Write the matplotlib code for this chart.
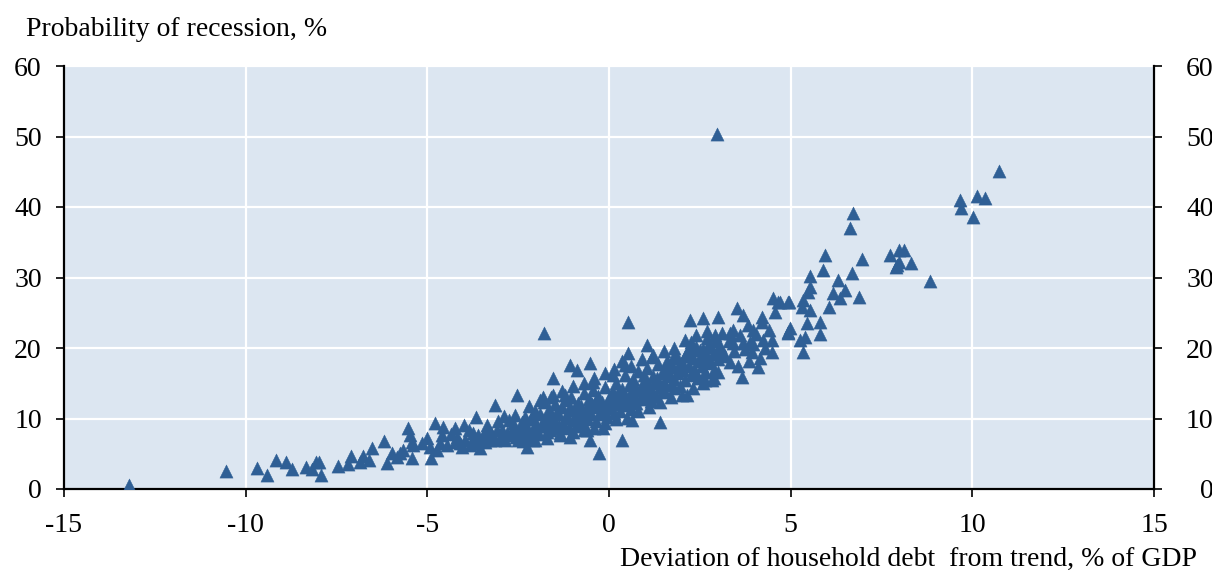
import matplotlib
matplotlib.use("Agg")
import matplotlib.pyplot as plt
import matplotlib.transforms as mtransforms

# Deviation of household debt from trend (% of GDP) and probability of recession (%)
x_sparse = [-13.2, -10.54, -9.68, -9.41, -9.16, -8.89, -8.72, -8.33, -8.17, -8.06, -7.98, -7.94,
            -7.46, -7.18, -7.1, -6.85, -6.77, -6.6, -6.52, -6.19, -6.11, -5.97, -5.84, -5.75,
            -5.67, -5.53, -5.48, -5.42, -5.4, -5.42, -5.15, -5.01, -4.93, -4.9, -4.79, -4.73,
            -4.65, -4.6, -4.57, -4.24, -4.18, -4.24, -4.05, -3.83, -3.74, -3.66, -3.63, -3.55,
            -3.47, -3.36, -3.28, -3.14, -3.08, -3.0, -2.81, -2.64, -2.59, -2.53, -2.5, -1.8,
            -2.26, -2.09, -1.82, -1.54, -1.54, -1.07, -0.88, -0.52, -0.44, -1.21, -1.07, -1.62,
            -1.07, -0.61, -0.52, -0.28, -0.17, 0.36, 0.52, 1.05, 0.44, 1.18, 1.4, 0.63, 0.52,
            0.11, 2.15, 2.97]
y_sparse = [0.5, 2.6, 3.0, 2.0, 4.1, 3.8, 2.9, 3.1, 2.9, 3.8, 3.8, 2.0,
            3.3, 3.5, 4.7, 3.8, 4.7, 4.1, 5.8, 6.8, 3.7, 5.1, 4.5, 5.1,
            5.5, 8.6, 7.7, 6.7, 6.2, 4.4, 6.5, 7.2, 6.0, 4.4, 9.4, 5.5,
            6.5, 7.7, 8.8, 8.6, 7.4, 6.7, 6.0, 6.2, 7.9, 10.2, 6.5, 5.8,
            7.4, 8.6, 6.9, 11.9, 8.4, 7.2, 7.9, 9.4, 10.5, 13.3, 6.9, 22.1,
            6.0, 6.9, 13.0, 15.7, 13.3, 17.6, 16.9, 17.9, 15.2, 13.3, 11.6, 8.4,
            7.4, 8.4, 6.9, 5.1, 8.7, 6.9, 19.3, 20.4, 17.6, 18.7, 9.5, 9.8, 23.7,
            16.2, 13.3, 50.3]

x_mid = [-3.45, -3.35, -3.25, -3.15, -3.05, -2.95, -2.85, -2.75, -2.65, -2.55, -3.4, -3.2,
         -2.9, -2.7, -4.45, -4.35, -4.1, -3.95, -3.85, -3.75, -3.6, -4.0,
         -2.45, -2.4, -2.35, -2.3, -2.25, -2.2, -2.15, -2.1, -2.05, -2.0, -1.95, -1.9,
         -1.85, -1.8, -1.75, -1.7, -1.65, -1.6, -1.55, -1.5, -1.45, -1.4, -1.35, -1.3,
         -1.25, -1.2, -1.15, -1.1, -1.05, -1.0, -0.95, -0.9, -0.85, -0.8, -0.75, -0.7,
         -0.65, -0.6, -0.55, -0.5, -0.45, -0.4, -0.35, -0.3, -0.25, -0.2, -0.15, -0.1,
         -0.05, 0.0, 0.05, 0.1, 0.15, 0.2, 0.25, 0.3, 0.35, 0.4, 0.45, 0.5,
         0.55, 0.6, 0.65, 0.7, 0.75, 0.8, 0.85, 0.9, 0.95, 1.0, 1.05, 1.1,
         1.15, 1.2, 1.25, 1.3, 1.35, 1.4, 1.45, 1.5, 1.55, 1.6, 1.65, 1.7,
         1.75, 1.8, 1.85, 1.9, 1.95, 2.0, 2.05, 2.1, 2.15, 2.2, 2.25, 2.3,
         2.35, 2.4, 2.45, 2.5, 2.55, 2.6, 2.65, 2.7, 2.75, 2.8, 2.85, 2.9,
         2.95, 3.0]
y_mid = [7.8, 9.1, 8.0, 6.9, 9.6, 8.3, 7.0, 9.8, 8.6, 7.4, 6.6, 7.3,
         10.4, 7.7, 6.2, 7.8, 6.5, 7.0, 8.3, 6.8, 7.6, 9.1,
         8.2, 9.5, 7.6, 10.2, 8.8, 7.2, 9.9, 8.5, 11.0, 9.2, 7.8, 10.6,
         8.9, 12.4, 9.6, 8.1, 11.3, 10.0, 8.7, 12.0, 9.3, 10.8, 7.9, 11.7,
         9.0, 12.6, 10.3, 8.6, 13.1, 9.8, 11.4, 8.9, 12.2, 10.5, 9.4, 13.6,
         11.0, 9.9, 12.8, 10.7, 14.0, 11.6, 9.6, 13.2, 10.9, 12.3, 11.2, 14.5,
         10.2, 12.9, 11.5, 13.8, 10.8, 15.0, 12.4, 11.1, 14.2, 13.0, 16.1, 12.0,
         14.8, 11.4, 15.6, 13.4, 12.2, 16.8, 14.1, 12.8, 15.3, 13.6, 17.2, 14.6,
         12.5, 16.0, 15.0, 13.2, 17.8, 14.4, 16.5, 15.2, 13.8, 18.2, 16.0, 14.8,
         17.3, 15.6, 19.0, 16.4, 14.6, 18.0, 16.9, 15.4, 19.4, 17.5, 16.2, 18.6,
         17.0, 20.1, 15.8, 18.2, 17.4, 19.8, 16.6, 18.8, 20.6, 17.9, 19.2, 16.9,
         21.0, 18.5]

x_layer = [-2.42, -2.28, -2.12, -1.98, -1.82, -1.68, -1.52, -1.38, -1.22, -1.08, -0.92, -0.78,
           -0.62, -0.48, -0.32, -0.18, -0.02, 0.12, 0.28, 0.42, 0.58, 0.72, 0.88, 1.02,
           1.18, 1.32, 1.48, 1.62, 1.78, 1.92, 2.08, 2.22, 2.38, 2.52, 2.68, 2.82, 2.98,
           -2.38, -2.05, -1.7, -1.35, -1.0, -0.7, -0.4, -0.1, 0.2, 0.5, 0.8, 1.1,
           1.4, 1.7, 2.0, 2.3, 2.6, 2.9,
           -2.2, -1.9, -1.6, -1.3, -1.0, -0.7, -0.4, -0.1, 0.15, 0.35, 0.6, 0.9,
           1.2, 1.5, 1.8, 2.1, 2.4, 2.7,
           -0.85, -0.35, 0.25, 0.68, 1.12, 1.55, 0.05, -0.6, -1.45, 0.95, 1.75, 2.25]
y_layer = [9.0, 7.9, 10.3, 8.4, 9.7, 10.4, 9.1, 8.9, 10.1, 11.2, 10.0, 11.8,
           10.4, 12.0, 11.9, 10.6, 11.8, 12.1, 13.3, 11.9, 13.5, 14.6, 13.1, 14.9,
           13.9, 15.7, 14.0, 16.8, 14.3, 17.6, 18.8, 19.9, 16.5, 19.0, 18.0, 20.2, 19.6,
           6.8, 7.0, 7.3, 7.6, 8.1, 8.3, 8.6, 9.4, 9.9, 10.1, 11.0, 11.6,
           12.3, 13.0, 13.4, 14.3, 15.0, 15.8,
           11.8, 12.6, 13.0, 13.9, 14.6, 15.0, 15.8, 16.4, 17.0, 18.2, 17.5, 18.4,
           19.0, 19.6, 20.0, 21.2, 21.8, 22.4,
           10.9, 12.5, 13.6, 12.9, 13.0, 17.0, 13.4, 11.3, 10.6, 16.2, 18.6, 20.8]

x_upper = [2.23, 2.59, 3.0, 3.52, 3.69, 3.83, 3.96, 4.21, 4.21, 4.51, 4.65, 4.57,
           4.93, 4.93, 2.7, 2.92, 3.11, 3.33, 3.41, 3.41, 3.69, 3.88, 4.24, 4.49,
           3.94, 4.16, 4.1, 4.49, 3.66, 3.33, 3.14, 3.0, 2.84, 2.64, 2.5,
           3.05, 3.2, 3.3, 3.45, 3.55, 3.6, 3.75, 3.85, 3.95, 4.05, 4.3, 4.4,
           5.95, 5.89, 6.96, 7.73, 7.93, 5.53, 5.53, 5.48, 5.34, 5.31, 5.53, 4.98,
           4.93, 5.45, 5.81, 5.81, 5.39, 5.26, 5.34, 6.3, 6.17, 6.5, 6.36, 6.06,
           6.88, 6.69, 4.71, 4.95, 6.72, 6.63,
           10.73, 9.66, 9.69, 10.13, 10.35, 10.02, 7.98, 8.12, 7.98, 7.9, 8.31, 8.84]
y_upper = [24.0, 24.3, 24.4, 25.7, 24.7, 23.3, 22.6, 24.4, 23.7, 27.1, 26.5, 25.1,
           26.5, 22.3, 21.4, 21.8, 22.1, 22.1, 22.6, 20.7, 20.7, 20.9, 21.1, 21.1,
           19.4, 18.6, 17.3, 19.4, 15.9, 18.0, 19.0, 16.6, 15.5, 15.5, 19.7,
           20.3, 18.9, 21.0, 19.6, 17.5, 21.9, 19.8, 18.2, 20.6, 22.0, 20.0, 22.6,
           33.2, 31.1, 32.6, 33.2, 31.8, 30.2, 28.7, 27.9, 26.8, 25.8, 25.4, 22.8,
           22.1, 23.5, 23.7, 22.0, 21.6, 21.1, 19.4, 29.6, 27.8, 28.2, 27.1, 25.8,
           27.2, 30.6, 26.5, 26.5, 39.1, 37.0,
           45.1, 41.0, 39.9, 41.6, 41.3, 38.6, 33.9, 33.9, 32.2, 31.5, 32.1, 29.5]

x_all = x_sparse + x_mid + x_layer + x_upper
y_all = y_sparse + y_mid + y_layer + y_upper

x_ticks = [-15, -10, -5, 0, 5, 10, 15]
y_ticks = [0, 10, 20, 30, 40, 50, 60]

plt.rcParams['font.family'] = ['Liberation Serif', 'DejaVu Serif']

fig = plt.figure(figsize=(12.12, 5.72), dpi=100)
ax = fig.add_axes([64 / 1212, 1 - 489 / 572, (1154 - 64) / 1212, (489 - 66) / 572])
ax.set_facecolor('#dce6f1')

ax.scatter(x_all, y_all, marker='^', s=90, color='#2f5f95', edgecolors='#2f5f95',
           linewidths=0.3, zorder=3)

ax.set_xlim(-15, 15)
ax.set_ylim(0, 60)
ax.set_xticks(x_ticks)
ax.set_yticks(y_ticks)
ax.set_xticklabels([str(v) for v in x_ticks])
ax.grid(True, color='white', linewidth=1.6, zorder=1)
ax.set_axisbelow(True)

for side in ['left', 'bottom', 'right']:
    ax.spines[side].set_color('black')
    ax.spines[side].set_linewidth(1.6)
ax.spines['top'].set_visible(False)

ax.tick_params(axis='x', direction='out', length=6, width=1.2, labelsize=20, pad=11)
ax.tick_params(axis='y', direction='out', length=6, width=1.2, labelsize=20, pad=10,
               right=True, labelright=True)

offset = mtransforms.ScaledTranslation(27 / 72, 0, fig.dpi_scale_trans)
for t in ax.yaxis.get_major_ticks():
    t.label2.set_horizontalalignment('right')
    t.label2.set_transform(t.label2.get_transform() + offset)

fig.text(26 / 1212, 1 - 29 / 572, 'Probability of recession, %', fontsize=20,
         ha='left', va='center')
fig.text(1197 / 1212, 1 - 559 / 572, 'Deviation of household debt  from trend, % of GDP',
         fontsize=20, ha='right', va='center')

fig.savefig('out.png', dpi=100)
